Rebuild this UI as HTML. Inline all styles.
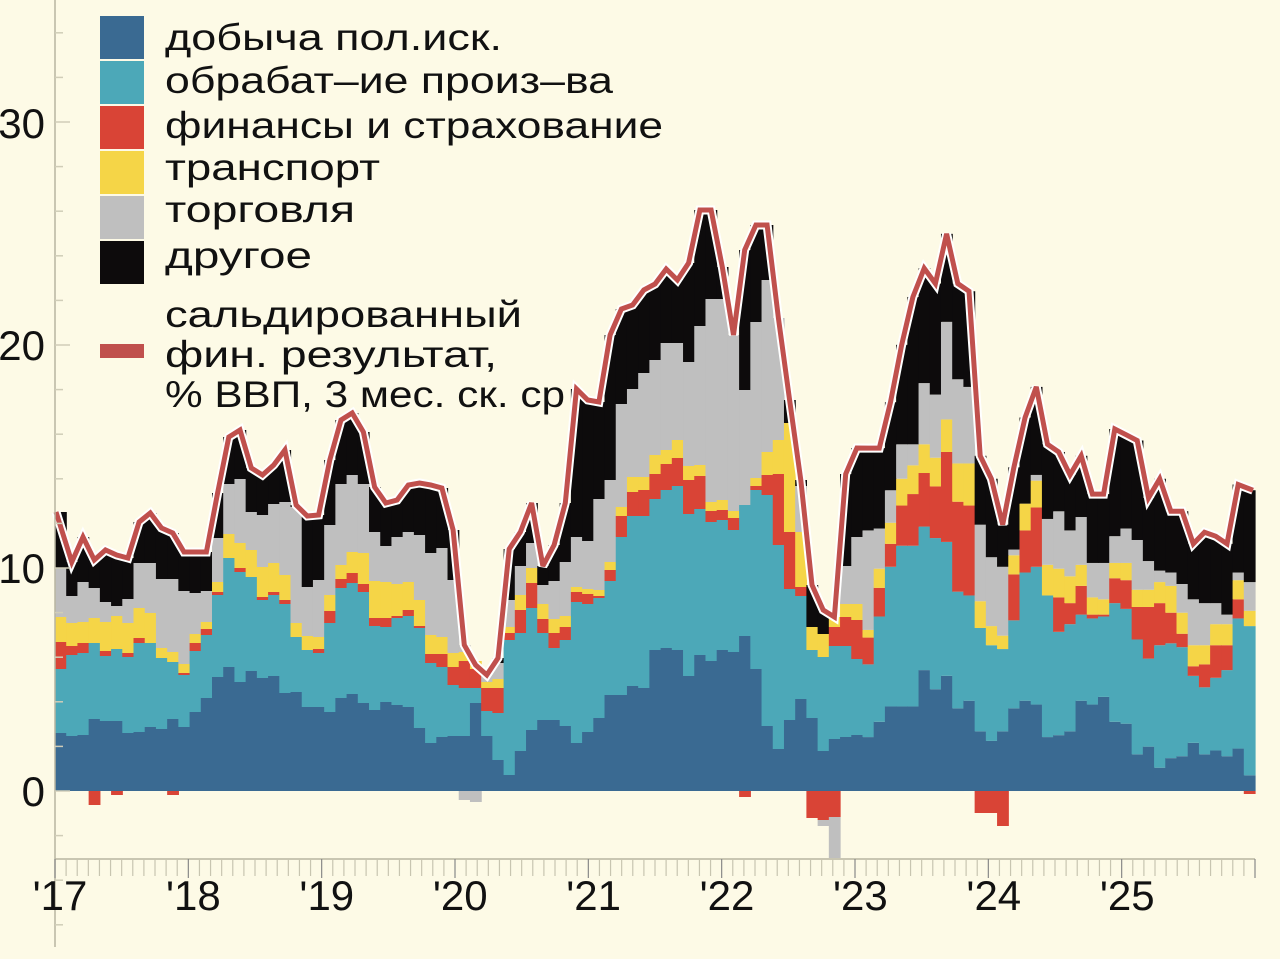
<!DOCTYPE html>
<html><head><meta charset="utf-8">
<style>
html,body{margin:0;padding:0;background:#fdfae6;}
svg{display:block;}
text{font-family:"Liberation Sans","DejaVu Sans",sans-serif;fill:#111;}
</style></head><body>
<svg id="c" width="1280" height="959" viewBox="0 0 1280 959" xmlns="http://www.w3.org/2000/svg">
<rect width="1280" height="959" fill="#fdfae6"/>
<g id="bars"></g>
<g id="axes"></g>
<g id="legend">
<rect x="100" y="16" width="44" height="43" fill="#3a6a92"/>
<rect x="100" y="61" width="44" height="43" fill="#4ca8b8"/>
<rect x="100" y="106" width="44" height="43" fill="#d94436"/>
<rect x="100" y="151" width="44" height="43" fill="#f5d547"/>
<rect x="100" y="196" width="44" height="43" fill="#bfbfbf"/>
<rect x="100" y="241" width="44" height="43" fill="#0d0b0c"/>
<rect x="100" y="344" width="44" height="14" fill="#c0504d"/>
<g font-size="37" font-weight="500">
<text x="165" y="50" textLength="337" lengthAdjust="spacingAndGlyphs">добыча пол.иск.</text>
<text x="165" y="93" textLength="448" lengthAdjust="spacingAndGlyphs">обрабат–ие произ–ва</text>
<text x="165" y="138" textLength="498" lengthAdjust="spacingAndGlyphs">финансы и страхование</text>
<text x="165" y="180" textLength="215" lengthAdjust="spacingAndGlyphs">транспорт</text>
<text x="165" y="222" textLength="190" lengthAdjust="spacingAndGlyphs">торговля</text>
<text x="165" y="268" textLength="147" lengthAdjust="spacingAndGlyphs">другое</text>
<text x="165" y="327" textLength="357" lengthAdjust="spacingAndGlyphs">сальдированный</text>
<text x="165" y="367" textLength="332" lengthAdjust="spacingAndGlyphs">фин. результат,</text>
<text x="165" y="407" textLength="400" lengthAdjust="spacingAndGlyphs">% ВВП, 3 мес. ск. ср</text>
</g>
</g>
</svg>
<script>
(function(){
var NS="http://www.w3.org/2000/svg";
function el(p,t,a){var e=document.createElementNS(NS,t);for(var k in a)e.setAttribute(k,a[k]);p.appendChild(e);return e;}
var M=[733,736,735,719,721,721,733,732,727,729,719,727,712,698,677,667,682,671,678,676,693,692,707,707,712,698,694,703,710,702,705,707,728,743,737,736,736,703,736,760,
775,751,730,720,720,726,743,732,718,695,695,686,688,650,648,650,676,655,661,650,652,636,669,726,749,720,699,718,751,739,737,735];
var T=[669,655,653,643,656,649,657,643,643,658,662,675,651,635,595,558,572,577,600,595,604,637,650,653,623,588,583,592,626,627,618,616,628,663,667,685,688,688,711,713,
640,633,608,633,648,640,602,604,598,581,537,516,516,499,490,486,514,509,522,520,530,505,490,495,545,589,596,650,657,646,646,659];
var R=[642,646,643,643,651,649,653,638,643,658,662,673,643,629,592,558,568,577,597,592,600,637,650,649,611,579,573,584,618,618,616,610,626,654,654,667,661,669,688,688,
633,610,583,619,633,627,592,594,596,570,516,492,490,474,464,458,480,476,511,510,518,512,486,475,474,532,587,650,657,627,617,620];
var Y=[617,623,622,618,622,616,623,608,613,648,652,664,634,622,582,534,543,550,567,563,575,623,636,637,595,565,552,553,581,582,584,582,600,635,637,653,652,661,682,679,
627,595,568,604,619,616,587,589,590,562,507,477,477,455,450,440,466,465,502,500,511,505,478,452,440,423,532,627,634,617,604,604];
var G=[568,596,582,588,602,606,599,563,563,579,579,591,593,591,538,484,479,512,515,504,502,507,587,580,525,484,475,484,532,546,537,532,535,553,548,580,645,665,675,663,
600,566,543,585,581,562,537,541,499,480,404,389,373,360,343,343,362,326,299,299,335,390,322,280,318,423,486,627,634,617,566,537];
var O=[512,562,537,560,550,555,558,522,513,528,533,552,552,552,493,437,430,468,475,465,450,505,516,515,460,420,413,432,487,503,500,485,483,485,488,530,645,670,680,658,
549,532,503,566,545,503,389,400,402,335,309,305,290,284,269,280,263,210,210,267,383,250,225,225,318,400,480,585,610,625,474,448];
var zm=[1325,1285,1245,1245,1245,1150,1200,1165,1250,1230,1310,1335,1310,1250,1230,1240,1325,1320,1310,1230,1240,1220,1285,1290,1370,1350,1405,1380,1375,1340,1370,1360,1375,1355,1425];
var zt=[1135,1010,880,825,825,775,805,815,945,955,1040,1085,1095,1020,895,880,955,1050,1030,1005,1015,1010,975,990,1070,1120,1085,1080,1090,1165,1195,1170,1150,1015,1035];
var zr=[1065,935,820,720,690,635,670,580,710,720,1040,1085,1095,900,785,725,955,960,975,930,1005,1005,910,915,985,985,975,1000,1055,1140,1135,1085,1085,965,1035];
var zy=[1045,885,765,650,615,560,595,495,610,610,970,1035,1060,850,715,655,875,885,905,875,960,965,870,870,940,940,920,930,1000,1085,1085,1030,1030,915,995];
var zg=[785,780,680,560,560,400,430,240,390,410,770,855,880,835,715,640,755,735,785,750,870,870,800,780,810,865,890,895,925,965,975,975,1005,895,920];
var zo=[570,570,450,300,175,100,140,10,140,160,590,650,770,620,490,410,560,580,640,590,690,690,520,535,550,700,650,735,735,820,790,800,820,665,680];
function cv(z){return 230+z*0.3827;}
for(var i=0;i<zm.length;i++){M.push(cv(zm[i]));T.push(cv(zt[i]));R.push(cv(zr[i]));Y.push(cv(zy[i]));G.push(cv(zg[i]));O.push(cv(zo[i]));}
var N=M.length, x0=55, W=1200/N, base=791;
var cols=["#3a6a92","#4ca8b8","#d94436","#f5d547","#bfbfbf","#0d0b0c"];
var g=document.getElementById("bars");
var neg={3:[["#d94436",805]],5:[["#d94436",795]],10:[["#d94436",795]],36:[["#bfbfbf",800]],37:[["#bfbfbf",802]],61:[["#d94436",797]],
67:[["#d94436",818]],68:[["#d94436",820],["#bfbfbf",826]],69:[["#d94436",817],["#bfbfbf",858]],
82:[["#d94436",813]],83:[["#d94436",813]],84:[["#d94436",826]],106:[["#d94436",794]]};
for(var i=0;i<N;i++){
  var x=x0+i*W, w=W+0.6;
  var tops=[M[i],T[i],R[i],Y[i],G[i],O[i]];
  var prev=base;
  for(var k=0;k<6;k++){
    var t=Math.min(tops[k],prev);
    if(prev-t>0.2) el(g,"rect",{x:x.toFixed(2),y:t.toFixed(2),width:w.toFixed(2),height:(prev-t).toFixed(2),fill:cols[k]});
    prev=t;
  }
  if(neg[i]){var p=base;neg[i].forEach(function(n){el(g,"rect",{x:x.toFixed(2),y:p,width:w.toFixed(2),height:n[1]-p,fill:n[0]});p=n[1];});}
}
var pts=[];
for(var i=0;i<N;i++){pts.push((x0+(i+0.5)*W).toFixed(1)+","+Math.min(O[i],G[i]).toFixed(1));}
pts[0]=(x0+1)+","+O[0];
pts[N-1]=(x0+N*W-2).toFixed(1)+","+O[N-1];
el(g,"polyline",{points:pts.join(" "),fill:"none",stroke:"#ffffff","stroke-width":9,"stroke-linejoin":"miter","stroke-miterlimit":3});
el(g,"polyline",{points:pts.join(" "),fill:"none",stroke:"#c0504d","stroke-width":5,"stroke-linejoin":"miter","stroke-miterlimit":3});
var a=document.getElementById("axes");
el(a,"line",{x1:55,y1:0,x2:55,y2:947,stroke:"#b8b5a0","stroke-width":1.5});
for(var v=-6;v<=34;v+=2){var yy=base-v*22.3;if(yy<0)continue;
  var len=(v%10==0)?15:8;
  el(a,"line",{x1:55,y1:yy,x2:55+len,y2:yy,stroke:"#d0cdb8","stroke-width":1.5});}
[[30,123],[20,345],[10,568],[0,791]].forEach(function(p){
  var t=el(a,"text",{x:45,y:p[1]+15,"font-size":42,"text-anchor":"end"});t.textContent=p[0];});
el(a,"line",{x1:55,y1:859,x2:1255,y2:859,stroke:"#b8b5a0","stroke-width":1.5});
for(var m=0;m<=108;m++){var xx=55+m*1200/108;
  el(a,"line",{x1:xx,y1:859,x2:xx,y2:(m%12==0)?878:876,stroke:(m%12==0)?"#888":"#c8c5b0","stroke-width":1.2});}
var yrs=["'17","'18","'19","'20","'21","'22","'23","'24","'25"];
for(var k=0;k<9;k++){var t=el(a,"text",{x:60+k*133.4,y:910,"font-size":42,"text-anchor":"middle"});t.textContent=yrs[k];}
})();
</script>
</body></html>
